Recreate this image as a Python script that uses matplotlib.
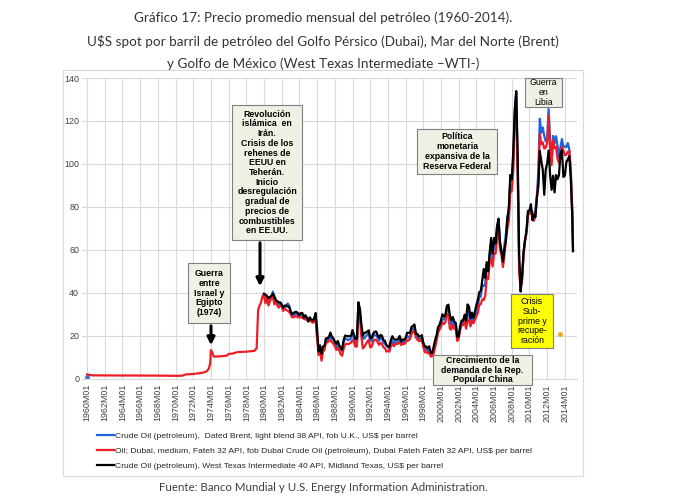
import numpy as np
import pandas as pd
import matplotlib
matplotlib.use("Agg")
import matplotlib.pyplot as plt
from matplotlib.patches import Rectangle

plt.rcParams['font.family'] = ['Liberation Sans', 'DejaVu Sans']

W, H = 679, 498

# ---------------- data ----------------
# Dubai before 1979 (sparse points, flat period)
early_dates = ["1960-01", "1960-07", "1961-01", "1965-01", "1968-01", "1970-01",
               "1970-10", "1971-03", "1972-01", "1972-10", "1973-03", "1973-07",
               "1973-10", "1973-12", "1974-01", "1974-03", "1974-05", "1975-01",
               "1975-10", "1976-01", "1976-06", "1977-01", "1977-06", "1978-01",
               "1978-12"]
early_dubai = [1.9, 1.5, 1.45, 1.4, 1.35, 1.25,
               1.3, 1.9, 2.1, 2.5, 2.8, 3.3,
               4.5, 7.0, 13.2, 12.0, 10.2, 10.3,
               10.6, 11.4, 11.6, 12.3, 12.4, 12.5,
               12.9]

# bimonthly 1979-01 .. 2014-11, then 2014-12
main_start = "1979-01-01"
main_end = "2014-11-01"
last_date = "2014-12"

nan = np.nan
brent = [
    nan, nan, nan, nan, nan, nan,                      # 1979
    38.0, 38.5, 37.5, 36.5, 36.0, 38.0,                # 1980
    40.5, 38.5, 36.5, 35.0, 34.5, 35.0,                # 1981
    34.0, 32.0, 33.5, 33.5, 35.0, 34.0,                # 1982
    31.0, 29.0, 29.5, 30.0, 30.0, 29.5,                # 1983
    29.5, 29.5, 29.5, 28.0, 28.5, 28.0,                # 1984
    27.5, 28.0, 27.0, 27.0, 27.5, 29.5,                # 1985
    19.6, 13.4, 14.4, 9.6, 14.0, 14.2,                 # 1986
    18.4, 17.8, 18.6, 19.5, 18.4, 18.2,                # 1987
    16.7, 14.7, 16.3, 14.8, 13.3, 12.8,                # 1988
    16.9, 18.6, 18.4, 17.9, 18.1, 19.0,                # 1989
    21.2, 18.5, 16.4, 17.2, 35.0, 32.2,                # 1990
    23.6, 18.5, 18.6, 19.6, 20.4, 21.1,                # 1991
    18.1, 17.3, 19.7, 20.3, 20.1, 19.0,                # 1992
    17.6, 18.8, 18.6, 16.8, 16.1, 15.4,                # 1993
    14.8, 13.6, 16.4, 17.7, 15.9, 17.2,                # 1994
    16.4, 16.9, 18.1, 16.0, 16.8, 17.2,                # 1995
    18.0, 19.9, 19.1, 19.6, 22.7, 23.1,                # 1996
    23.5, 20.9, 19.3, 18.4, 18.1, 19.2,                # 1997
    15.5, 13.2, 14.5, 12.5, 13.5, 11.0,                # 1998
    11.1, 12.8, 15.2, 19.5, 22.5, 24.6,                # 1999
    25.5, 27.3, 27.6, 28.5, 32.8, 32.6,                # 2000
    25.6, 24.9, 28.4, 24.8, 25.6, 18.9,                # 2001
    19.4, 23.7, 25.7, 25.7, 28.3, 24.2,                # 2002
    31.2, 30.3, 25.8, 28.4, 27.1, 28.8,                # 2003
    31.2, 33.6, 37.9, 38.2, 43.3, 43.1,                # 2004
    44.2, 53.1, 49.9, 57.5, 62.7, 55.5,                # 2005
    63.1, 62.3, 70.1, 74.4, 62.5, 59.5,                # 2006
    54.3, 62.1, 67.5, 75.5, 77.2, 92.5,                # 2007
    91.9, 103.3, 122.8, 133.0, 98.1, 53.5,             # 2008
    43.0, 46.9, 58.2, 64.7, 67.7, 77.5,                # 2009
    76.9, 79.3, 75.6, 75.4, 78.3, 85.3,                # 2010
    96.3, 121.0, 114.5, 117.0, 113.1, 110.5,           # 2011
    111.6, 125.5, 110.5, 102.6, 113.0, 109.5,          # 2012
    112.9, 108.5, 102.7, 107.7, 111.6, 107.9,          # 2013
    108.1, 107.8, 109.7, 106.8, 97.1, 79.4, 62.3,      # 2014
]
dubai = [
    13.4, 14.0, 32.0, 34.0, 35.5, 38.5,                # 1979
    39.0, 35.0, 38.0, 34.0, 36.0, 38.5,                # 1980
    38.0, 34.5, 36.5, 34.0, 33.0, 34.0,                # 1981
    33.5, 31.5, 32.5, 32.0, 31.5, 31.0,                # 1982
    30.0, 28.5, 28.5, 29.0, 29.0, 28.5,                # 1983
    28.5, 28.5, 28.3, 27.8, 27.5, 27.5,                # 1984
    27.0, 27.5, 26.5, 26.0, 26.5, 27.5,                # 1985
    18.5, 11.0, 12.5, 8.3, 12.6, 13.3,                 # 1986
    17.0, 16.8, 17.6, 17.9, 16.9, 16.2,                # 1987
    15.0, 13.3, 14.4, 13.0, 11.3, 10.6,                # 1988
    14.0, 15.7, 16.2, 16.0, 16.3, 16.7,                # 1989
    18.0, 16.7, 14.8, 14.9, 31.0, 28.5,                # 1990
    19.5, 14.0, 14.8, 16.0, 17.2, 18.0,                # 1991
    14.5, 14.8, 17.0, 18.1, 18.0, 17.0,                # 1992
    15.7, 16.6, 16.0, 14.5, 14.2, 12.5,                # 1993
    12.9, 12.5, 15.2, 16.2, 15.0, 15.9,                # 1994
    16.2, 16.2, 17.0, 15.6, 16.0, 16.1,                # 1995
    16.6, 17.8, 17.7, 18.4, 20.7, 21.9,                # 1996
    22.3, 19.0, 18.1, 17.4, 17.5, 18.4,                # 1997
    14.8, 12.2, 12.4, 11.7, 12.4, 10.2,                # 1998
    10.4, 11.6, 14.4, 17.6, 21.3, 22.8,                # 1999
    24.0, 26.0, 25.4, 26.3, 30.0, 29.7,                # 2000
    23.2, 22.8, 25.0, 23.2, 23.4, 17.5,                # 2001
    18.7, 22.6, 24.9, 24.9, 26.8, 23.2,                # 2002
    27.2, 27.3, 24.3, 26.9, 25.7, 27.3,                # 2003
    28.9, 30.6, 34.6, 34.6, 36.9, 36.6,                # 2004
    38.5, 47.2, 46.3, 54.0, 56.0, 52.2,                # 2005
    58.5, 58.1, 65.0, 70.9, 60.2, 57.5,                # 2006
    51.9, 57.2, 64.4, 69.7, 73.6, 86.5,                # 2007
    87.5, 96.7, 119.5, 131.2, 95.9, 49.4,              # 2008
    42.0, 45.6, 57.5, 64.6, 67.8, 76.9,                # 2009
    76.8, 76.9, 77.6, 73.5, 75.6, 83.6,                # 2010
    92.4, 114.0, 109.2, 110.0, 107.1, 107.7,           # 2011
    109.6, 122.5, 107.2, 99.4, 111.0, 107.3,           # 2012
    107.9, 102.4, 100.4, 103.5, 108.0, 106.2,          # 2013
    104.0, 104.3, 105.6, 106.0, 96.6, 76.4, 60.2,      # 2014
]
wti = [
    nan, nan, nan, nan, nan, nan,                      # 1979
    39.5, 39.0, 38.5, 37.5, 38.0, 38.5,                # 1980
    39.5, 38.0, 36.5, 36.0, 35.5, 35.5,                # 1981
    34.5, 33.0, 34.0, 34.0, 33.5, 33.5,                # 1982
    31.5, 30.0, 30.5, 31.0, 31.0, 30.5,                # 1983
    29.5, 30.5, 30.5, 28.5, 29.5, 28.5,                # 1984
    26.5, 28.5, 27.5, 27.0, 28.0, 30.5,                # 1985
    22.9, 12.6, 15.4, 11.6, 14.9, 15.2,                # 1986
    18.7, 18.8, 19.4, 21.4, 19.5, 18.8,                # 1987
    17.2, 16.2, 17.5, 15.5, 14.5, 13.5,                # 1988
    18.0, 20.0, 19.8, 19.7, 19.7, 19.9,                # 1989
    22.6, 20.3, 18.4, 18.6, 35.5, 32.3,                # 1990
    25.2, 19.9, 21.2, 21.4, 21.9, 22.4,                # 1991
    18.8, 19.0, 20.9, 21.8, 21.9, 20.3,                # 1992
    19.0, 20.3, 19.9, 17.8, 17.5, 15.5,                # 1993
    15.0, 14.7, 17.9, 19.7, 18.4, 18.1,                # 1994
    18.0, 18.6, 19.8, 17.3, 18.2, 18.0,                # 1995
    18.9, 21.3, 21.3, 21.3, 24.0, 24.5,                # 1996
    25.2, 20.8, 20.8, 19.6, 19.6, 20.2,                # 1997
    16.7, 15.0, 14.9, 14.1, 15.0, 12.0,                # 1998
    12.0, 14.7, 17.8, 20.1, 23.9, 25.0,                # 1999
    27.2, 29.9, 28.8, 29.6, 33.9, 34.4,                # 2000
    29.6, 27.2, 28.6, 26.5, 25.9, 19.4,                # 2001
    19.7, 24.5, 27.0, 27.0, 29.7, 26.9,                # 2002
    34.5, 33.5, 28.1, 30.7, 28.3, 31.1,                # 2003
    34.3, 36.7, 40.3, 40.7, 45.9, 51.0,                # 2004
    46.8, 54.2, 50.0, 58.7, 65.5, 58.3,                # 2005
    65.5, 62.9, 70.9, 74.4, 63.8, 59.1,                # 2006
    54.5, 60.4, 64.0, 74.1, 79.9, 94.8,                # 2007
    92.9, 105.5, 125.4, 133.9, 104.1, 57.3,            # 2008
    40.5, 47.9, 59.2, 64.2, 69.4, 78.1,                # 2009
    78.3, 81.2, 73.7, 76.3, 75.2, 84.3,                # 2010
    89.4, 106.0, 101.3, 97.3, 85.6, 97.2,              # 2011
    100.3, 106.2, 94.7, 87.9, 94.5, 86.7,              # 2012
    94.8, 92.9, 94.7, 104.7, 106.3, 93.9,              # 2013
    94.6, 100.8, 102.1, 103.6, 93.2, 75.8, 59.3,       # 2014
]

# isolated points visible in the chart
brent_dot_date, brent_dot_value = "1960-01", 0.8
extra_dot_date, extra_dot_value = "2013-07", 20.6

tick_years = list(range(1960, 2015, 2))
tick_labels = [f"{y}M01" for y in tick_years]
yticks = [0, 20, 40, 60, 80, 100, 120, 140]

legend_labels = [
    "Crude Oil (petroleum),  Dated Brent, light blend 38 API, fob U.K., US$ per barrel",
    "Oil; Dubai, medium, Fateh 32 API, fob Dubai Crude Oil (petroleum), Dubai Fateh Fateh 32 API, US$ per barrel",
    "Crude Oil (petroleum), West Texas Intermediate 40 API, Midland Texas, US$ per barrel",
]

title_lines = [
    "Gráfico 17: Precio promedio mensual del petróleo (1960-2014).",
    "U$S spot por barril de petróleo del Golfo Pérsico (Dubai), Mar del Norte (Brent)",
    "y Golfo de México (West Texas Intermediate \u2013WTI-)",
]
source_text = "Fuente: Banco Mundial y U.S. Energy Information Administration."

# ---------------- helpers ----------------
def dec_year(d):
    ts = pd.Timestamp(d)
    return ts.year + (ts.month - 1) / 12.0

def fx(px):
    return px / W

def fy(py):
    return 1 - py / H

main_dates = list(pd.date_range(main_start, main_end, freq="2MS")) + [pd.Timestamp(last_date)]
x_main = np.array([dec_year(d) for d in main_dates])
x_early = np.array([dec_year(d) for d in early_dates])

x_dubai = np.concatenate([x_early, x_main])
y_dubai = np.concatenate([early_dubai, dubai])

BLUE = "#1F62E0"
RED = "#EE1C25"
BLACK = "#000000"

fig = plt.figure(figsize=(W / 100, H / 100), dpi=100)
fig.patch.set_facecolor("white")

# chart-area border
fig.add_artist(Rectangle((fx(63), fy(476)), fx(583) - fx(63), fy(70) - fy(476),
                         transform=fig.transFigure, fill=False,
                         edgecolor="#D9D9D9", lw=0.8))

ax = fig.add_axes([fx(82), fy(378.5), fx(577) - fx(82), fy(78) - fy(378.5)])
ax.set_xlim(1959.43, 2015.37)
ax.set_ylim(0, 140)

lb, = ax.plot(x_main, brent, color=BLUE, lw=1.6, solid_joinstyle="round")
lr, = ax.plot(x_dubai, y_dubai, color=RED, lw=1.6, solid_joinstyle="round")
lk, = ax.plot(x_main, wti, color=BLACK, lw=1.6, solid_joinstyle="round")
ax.plot([dec_year(brent_dot_date)], [brent_dot_value], "o", color="#4472C4", ms=2.5)
ax.plot([dec_year(extra_dot_date)], [extra_dot_value], "o", color="#F5A623", ms=2.5)

ax.set_xticks(tick_years)
ax.set_xticklabels(tick_labels, rotation=90, fontsize=6.4, color="#404040")
ax.set_yticks(yticks)
ax.set_yticklabels([str(v) for v in yticks], fontsize=6.4, color="#404040")
ax.tick_params(axis="both", length=0)
ax.tick_params(axis="x", pad=4)
ax.tick_params(axis="y", pad=2)
ax.grid(True, color="#D9D9D9", lw=0.8)
ax.set_axisbelow(True)
for s in ax.spines.values():
    s.set_visible(False)
ax.spines["bottom"].set_visible(True)
ax.spines["bottom"].set_color("#D9D9D9")

# ---------------- annotations ----------------
BOXFILL = "#EEF1E4"

def box(x0, y0, x1, y1, text, fill=BOXFILL, weight="bold", size=6.3):
    fig.add_artist(Rectangle((fx(x0), fy(y1)), fx(x1) - fx(x0), fy(y0) - fy(y1),
                             transform=fig.transFigure, facecolor=fill,
                             edgecolor="#7F7F7F", lw=0.8, zorder=5))
    fig.text(fx((x0 + x1) / 2), fy((y0 + y1) / 2), text, ha="center", va="center",
             fontsize=size, fontweight=weight, color="black", linespacing=1.1,
             zorder=6)

def arrow(x, ytop, ybot):
    fig.add_artist(matplotlib.patches.FancyArrowPatch(
        (fx(x), fy(ytop)), (fx(x), fy(ybot)), transform=fig.transFigure,
        arrowstyle="-|>", mutation_scale=11, lw=2.2, color="black", zorder=6))

box(188, 263, 230, 323, "Guerra\nentre\nIsrael y\nEgipto\n(1974)")
arrow(211, 323, 348)
box(232, 105, 302, 240,
    "Revolución\nislámica  en\nIrán.\nCrisis de los\nrehenes de\nEEUU en\nTeherán.\n"
    "Inicio\ndesregulación\ngradual de\nprecios de\ncombustibles\nen EE.UU.")
arrow(260, 240, 289)
box(417, 129, 497, 174, "Política\nmonetaria\nexpansiva de la\nReserva Federal")
box(525, 78, 562, 107, "Guerra\nen\nLibia", weight="normal")
box(511, 294, 553, 348, "Crisis\nSub-\nprime y\nrecupe-\nración", fill="#FFFF00",
    weight="normal")
box(433, 355, 532, 385, "Crecimiento de la\ndemanda de la Rep.\nPopular China")

# ---------------- legend ----------------
fig.legend([lb, lr, lk], legend_labels, loc="upper left",
           bbox_to_anchor=(fx(97), fy(432)), frameon=False, fontsize=6.1,
           handlelength=2.0, handletextpad=0.15, labelspacing=0.85,
           borderpad=0, borderaxespad=0, labelcolor="#262626")

# ---------------- titles ----------------
tfam = ["Lato", "DejaVu Sans"]
for txt, yy in zip(title_lines, [18, 42, 64]):
    fig.text(fx(323), fy(yy), txt, ha="center", va="center", fontsize=9.7,
             color="#333333", family=tfam)
fig.text(fx(323), fy(487), source_text, ha="center", va="center", fontsize=8.3,
         color="#404040", family=tfam)

fig.savefig("out.png", dpi=100)
